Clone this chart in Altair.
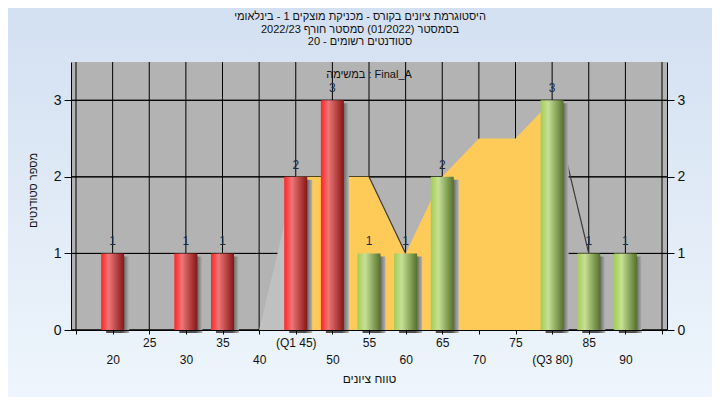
import json
import altair as alt
import pandas as pd

# ---------------- texts ----------------
title_lines = [
    "היסטוגרמת ציונים בקורס - מכניקת מוצקים 1 - בינלאומי",
    "בסמסטר  (01/2022)  סמסטר חורף 2022/23",
    "סטודנטים רשומים - 20",
]
task_label = "במשימה : Final_A"
x_title = "טווח ציונים"
y_title = "מספר סטודנטים"

# ---------------- data ----------------
grades = [20, 30, 35, 45, 50, 55, 60, 65, 80, 85, 90]
counts = [1, 1, 1, 2, 3, 1, 1, 2, 3, 1, 1]
pass_grade = 55

dist_x = [40, 45, 50, 55, 60, 65, 70, 75, 80, 85]
dist_y = [0, 2, 2, 2, 1, 2, 2.5, 2.5, 3, 1]
q1, q3 = 45, 80

tick_vals = [15, 20, 25, 30, 35, 40, 45, 50, 55, 60, 65, 70, 75, 80, 85, 90, 95]
tick_text = ["", "20", "25", "30", "35", "40", "(Q1 45)", "50", "55", "60",
             "65", "70", "75", "(Q3 80)", "85", "90", ""]
tick_row = [0, 1, 0, 1, 0, 1, 0, 1, 0, 1, 0, 1, 0, 1, 0, 1, 0]  # 1 = lower row
y_ticks = [0, 1, 2, 3]

# ---------------- tables ----------------
bars = pd.DataFrame({"grade": grades, "count": counts})
bars["pass"] = bars["grade"] >= pass_grade

band_rows = []
for gx, gy in zip(dist_x, dist_y):
    if gx <= q1:
        band_rows.append({"x": gx, "y": gy, "band": "low"})
    if q1 <= gx <= q3:
        band_rows.append({"x": gx, "y": gy, "band": "mid"})
bands = pd.DataFrame(band_rows)

seg_rows = []
for i in range(len(dist_x) - 1):
    if dist_y[i + 1] < dist_y[i]:
        seg_rows.append({"x": dist_x[i], "y": dist_y[i], "seg": i})
        seg_rows.append({"x": dist_x[i + 1], "y": dist_y[i + 1], "seg": i})
segs = pd.DataFrame(seg_rows)

label_entries = [["", t] if r == 1 else t for t, r in zip(tick_text, tick_row)]
label_expr = f"{json.dumps(label_entries)}[indexof({json.dumps(tick_vals)}, datum.value)]"

# ---------------- style ----------------
W, H = 596, 268
FONT = "Liberation Sans"
TXT = "#111111"
xs = alt.Scale(domain=[15, 95], nice=False, zero=False)
ys = alt.Scale(domain=[0, 3.5], nice=False)

x_axis = alt.Axis(
    values=tick_vals, grid=False, domainColor="black", domainWidth=1,
    tickColor="black", tickSize=4, tickWidth=1,
    labelExpr=label_expr, labelFont=FONT, labelFontSize=12, labelColor=TXT,
    labelPadding=3, labelLineHeight=17, labelOverlap=False, labelFlush=False,
    title=x_title, titleFont=FONT, titleFontSize=12,
    titleFontWeight="normal", titleColor=TXT, titlePadding=8, zindex=1,
)
left_axis = alt.Axis(
    values=y_ticks, grid=False, domainColor="black", tickColor="black",
    tickSize=7, labelFont=FONT, labelFontSize=14, labelColor=TXT, labelPadding=3,
    format="d", title=y_title, titleFont=FONT, titleFontSize=11,
    titleFontWeight="normal", titleColor=TXT, titlePadding=15, titleY=128, zindex=1,
)
right_axis = alt.Axis(
    orient="right", values=y_ticks, grid=False, domainColor="black",
    tickColor="black", tickSize=7, labelFont=FONT, labelFontSize=14,
    labelColor=TXT, labelPadding=3, format="d", title=None, zindex=1,
)

bg_grad = alt.Gradient(gradient="linear", x1=0, x2=0, y1=0, y2=1,
                       stops=[alt.GradientStop(color="#D3E0F1", offset=0),
                              alt.GradientStop(color="#EEF5FC", offset=1)])
red_grad = alt.Gradient(gradient="linear", x1=0, x2=1, y1=0, y2=0,
                        stops=[alt.GradientStop(color="#FF2424", offset=0),
                               alt.GradientStop(color="#EE7676", offset=0.33),
                               alt.GradientStop(color="#861616", offset=1)])
green_grad = alt.Gradient(gradient="linear", x1=0, x2=1, y1=0, y2=0,
                          stops=[alt.GradientStop(color="#A3CC55", offset=0),
                                 alt.GradientStop(color="#C6E095", offset=0.33),
                                 alt.GradientStop(color="#55712A", offset=1)])
shadow_grad = alt.Gradient(gradient="linear", x1=0, x2=1, y1=0, y2=0,
                           stops=[alt.GradientStop(color="#505050", offset=0.7),
                                  alt.GradientStop(color="#B4B4B4", offset=1)])

one = alt.Data(values=[{}])

bg = alt.Chart(one).mark_rect(fill=bg_grad).encode(
    x=alt.value(-63), x2=alt.value(W + 45), y=alt.value(-54), y2=alt.value(H + 67))
plot_bg = alt.Chart(one).mark_rect(fill="#B3B3B3").encode(
    x=alt.value(0), x2=alt.value(W), y=alt.value(0), y2=alt.value(H))

vgrid = alt.Chart(pd.DataFrame({"v": tick_vals})).mark_rule(color="black", strokeWidth=1).encode(
    x=alt.X("v:Q", scale=xs, axis=x_axis), y=alt.value(0), y2=alt.value(H))
hgrid = alt.Chart(pd.DataFrame({"v": y_ticks})).mark_rule(color="black", strokeWidth=1).encode(
    y=alt.Y("v:Q", scale=ys, axis=left_axis), x=alt.value(0), x2=alt.value(W))
hgrid_r = alt.Chart(pd.DataFrame({"v": y_ticks})).mark_rule(color="black", strokeWidth=1).encode(
    y=alt.Y("v:Q", scale=ys, axis=right_axis), x=alt.value(0), x2=alt.value(W))

area_low = alt.Chart(bands).transform_filter("datum.band == 'low'").mark_area(
    color="#C0C0C0").encode(
    x=alt.X("x:Q", scale=xs, axis=x_axis), y=alt.Y("y:Q", scale=ys, axis=None))
area_mid = alt.Chart(bands).transform_filter("datum.band == 'mid'").mark_area(
    color="#FFCB58").encode(
    x=alt.X("x:Q", scale=xs, axis=x_axis), y=alt.Y("y:Q", scale=ys, axis=None))
edges = alt.Chart(segs).mark_line(color="#3A3A3A", strokeWidth=1.2).encode(
    x=alt.X("x:Q", scale=xs, axis=x_axis), y=alt.Y("y:Q", scale=ys, axis=None),
    detail="seg:N")

shadow = alt.Chart(bars).mark_bar(size=23, xOffset=5, yOffset=3, fill=shadow_grad).encode(
    x=alt.X("grade:Q", scale=xs, axis=x_axis), y=alt.Y("count:Q", scale=ys, axis=None))
red_bars = alt.Chart(bars).transform_filter("!datum.pass").mark_bar(size=23, fill=red_grad).encode(
    x=alt.X("grade:Q", scale=xs, axis=x_axis), y=alt.Y("count:Q", scale=ys, axis=None))
green_bars = alt.Chart(bars).transform_filter("datum.pass").mark_bar(size=23, fill=green_grad).encode(
    x=alt.X("grade:Q", scale=xs, axis=x_axis), y=alt.Y("count:Q", scale=ys, axis=None))
bar_text = alt.Chart(bars).mark_text(dy=-8, baseline="alphabetic", font=FONT, fontSize=12,
                                     color="#1C2A48").encode(
    x=alt.X("grade:Q", scale=xs, axis=x_axis), y=alt.Y("count:Q", scale=ys, axis=None),
    text="count:Q")

task = alt.Chart(one).mark_text(font=FONT, fontSize=11, color=TXT, baseline="middle").encode(
    x=alt.value(W / 2), y=alt.value(13), text=alt.value(task_label))
title = alt.Chart(one).mark_text(font=FONT, fontSize=11, color=TXT, baseline="middle",
                                 lineHeight=12.5).encode(
    x=alt.value(289), y=alt.value(-45), text=alt.value(title_lines))

chart = alt.layer(
    bg, plot_bg, vgrid, hgrid, hgrid_r, area_low, area_mid, edges,
    shadow, red_bars, green_bars, bar_text, task, title,
).resolve_scale(y="independent").properties(
    width=W, height=H,
    autosize=alt.AutoSizeParams(type="none"),
    padding={"left": 63, "top": 54, "right": 45, "bottom": 67},
    background="#E2ECF7",
).configure_view(stroke=None)

chart.save("out.html", embed_options={"renderer": "svg", "actions": False})
